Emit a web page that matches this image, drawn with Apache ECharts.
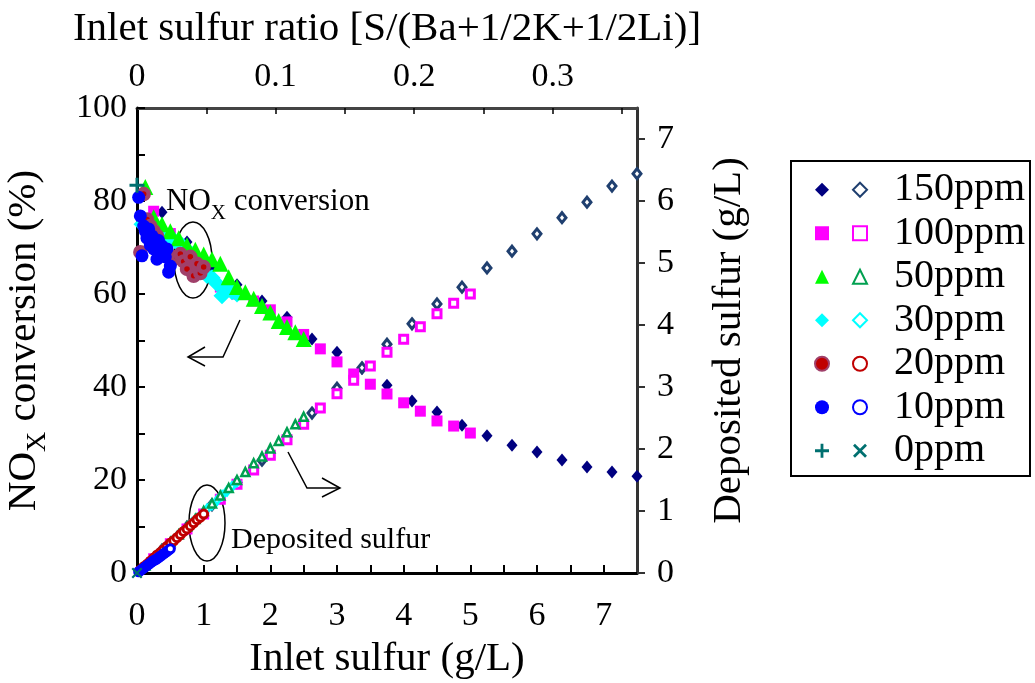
<!DOCTYPE html>
<html><head><meta charset="utf-8">
<script src="https://cdn.jsdelivr.net/npm/echarts@6/dist/echarts.min.js"></script>
<style>html,body{margin:0;padding:0;background:#fff}#c{width:1035px;height:683px}</style>
</head><body><div id="c"></div>
<script>
const FONT = 'Liberation Serif';
// Inlet sulfur (g/L), NOx conversion (%), deposited sulfur (g/L)
const inlet150 = [0.375,0.75,1.125,1.5,1.875,2.25,2.625,3.0,3.375,3.75,4.125,4.5,4.875,5.25,5.625,6.0,6.375,6.75,7.125,7.5];
const nox150 = [77.6,71.2,66,62,58.5,55,50.3,47.5,44,40.4,37,34.6,31.8,29.5,27.5,26,24.3,22.8,21.7,20.8];
const dep150 = [0.37,0.74,1.1,1.46,1.82,2.2,2.58,2.98,3.31,3.69,4.02,4.34,4.61,4.92,5.19,5.47,5.73,5.98,6.24,6.44];

const inlet100 = [0.25,0.5,0.75,1.0,1.25,1.5,1.75,2.0,2.25,2.5,2.75,3.0,3.25,3.5,3.75,4.0,4.25,4.5,4.75,5.0];
const nox100 = [77.8,73,67,64.5,61.5,60,58.5,56.6,54,51.3,48.2,45.4,42.8,40.6,38.5,36.6,34.8,32.7,31.6,30.1];
const dep100 = [0.23,0.47,0.71,0.95,1.19,1.43,1.66,1.9,2.15,2.4,2.66,2.89,3.11,3.34,3.56,3.77,3.97,4.18,4.35,4.5];

const inlet50 = [0.125,0.25,0.375,0.5,0.625,0.75,0.875,1.0,1.125,1.25,1.375,1.5,1.625,1.75,1.875,2.0,2.125,2.25,2.375,2.5];
const nox50 = [83,76.5,75,73.5,72,70.5,69.5,68.5,67.5,66.5,63.6,61.5,60.4,59,57.4,56,54.2,52.9,51.8,50.3];
const dep50 = [0.12,0.25,0.37,0.5,0.62,0.75,0.87,1.0,1.12,1.25,1.37,1.5,1.63,1.77,1.88,2.01,2.13,2.27,2.4,2.52];

const inlet30 = [0.075,0.15,0.225,0.3,0.375,0.45,0.525,0.6,0.675,0.75,0.825,0.9,0.975,1.05,1.125,1.2,1.275,1.35,1.425,1.5];
const nox30 = [75,74.5,74,73.5,72.5,72.5,72,71,70.5,69.5,68.5,67.5,66,64,63.5,62.2,59.6,61,60.5,60];
const dep30 = [0.07,0.15,0.22,0.29,0.37,0.44,0.51,0.59,0.66,0.73,0.81,0.88,0.95,1.03,1.1,1.17,1.25,1.32,1.39,1.47];

const inlet20 = [0.05,0.1,0.15,0.2,0.25,0.3,0.35,0.4,0.45,0.5,0.55,0.6,0.65,0.7,0.75,0.8,0.85,0.9,0.95,1.0];
const nox20 = [69,81.5,76,74.6,73.5,72.5,70.3,69.2,69,68,67.5,68,68.6,67,65.4,68,63.9,66.5,64.5,65.8];
const dep20 = [0.05,0.1,0.14,0.19,0.24,0.29,0.33,0.38,0.43,0.48,0.52,0.57,0.62,0.67,0.71,0.76,0.81,0.86,0.9,0.95];

const inlet10 = [0.025,0.05,0.075,0.1,0.125,0.15,0.175,0.2,0.225,0.25,0.275,0.3,0.325,0.35,0.375,0.4,0.425,0.45,0.475,0.5];
const nox10 = [80.8,76.8,68.2,74.6,73.5,72,74,70.5,72.5,69.7,71,67.5,71.5,69,70.3,69.5,68,69.7,64.7,66];
const dep10 = [0.02,0.04,0.06,0.08,0.1,0.12,0.14,0.16,0.18,0.2,0.21,0.23,0.25,0.27,0.29,0.31,0.33,0.35,0.37,0.39];

const inlet0 = [0];
const nox0 = [83.4];
const dep0 = [0];

const legendLabels = ['150ppm','100ppm','50ppm','30ppm','20ppm','10ppm','0ppm'];

const pts = (xs, ys) => xs.map((x, i) => [x, ys[i]]);
const PLUS = 'path://M4,0h2v4h4v2h-4v4h-2v-4h-4v-2h4z';
const CROSS = 'path://M1.4,0L5,3.6L8.6,0L10,1.4L6.4,5L10,8.6L8.6,10L5,6.4L1.4,10L0,8.6L3.6,5L0,1.4Z';

function filled(name, xs, ys, symbol, size, style, z) {
  return {type:'scatter', name: name + ' NOx', xAxisIndex:0, yAxisIndex:0, data: pts(xs, ys),
    symbol, symbolSize:size, itemStyle: Object.assign({opacity:1}, style), z: z || 2};
}
function open(name, xs, ys, symbol, size, color, bw, z) {
  return {type:'scatter', name: name + ' S', xAxisIndex:0, yAxisIndex:1, data: pts(xs, ys),
    symbol, symbolSize:size,
    itemStyle: symbol.indexOf('path') === 0 ? {color, opacity:1} : {color:'#fff', borderColor:color, borderWidth:bw, opacity:1}, z: z || 2};
}

const series = [
  filled('150ppm', inlet150, nox150, 'diamond', [11,13], {color:'#000080'}),
  open('150ppm', inlet150, dep150, 'diamond', [8,10], '#1F3F6F', 3),
  filled('100ppm', inlet100, nox100, 'rect', 11, {color:'#FF00FF'}),
  open('100ppm', inlet100, dep100, 'rect', 8, '#FF00FF', 3),
  filled('30ppm', inlet30, nox30, 'diamond', 17, {color:'#00FFFF'}),
  open('30ppm', inlet30, dep30, 'diamond', [6,8], '#00FFFF', 3),
  filled('50ppm', inlet50, nox50, 'triangle', 16, {color:'#00FF00'}),
  open('50ppm', inlet50, dep50, 'triangle', 8, '#00A050', 2.5),
  filled('20ppm', inlet20, nox20, 'circle', 10, {color:'#C00000', borderColor:'#A0406A', borderWidth:4.5}),
  open('20ppm', inlet20, dep20, 'circle', 8, '#C00000', 3),
  filled('10ppm', inlet10, nox10, 'circle', 13, {color:'#0000FF'}),
  open('10ppm', inlet10, dep10, 'circle', 8, '#0000FF', 3),
  filled('0ppm', inlet0, nox0, PLUS, 15, {color:'#007070'}),
  open('0ppm', inlet0, dep0, CROSS, 11, '#007070', 0)
];

const numLabel = {fontFamily:FONT, fontSize:34, color:'#000'};
const legendText = {fontFamily:FONT, fontSize:40, color:'#000', lineHeight:43.5};
const titleText = {fontFamily:FONT, fontSize:41, color:'#000'};

const option = {
  animation:false,
  backgroundColor:'#fff',
  grid:{left:137, right:398, top:108, bottom:110, containLabel:false, outerBoundsMode:'none'},
  xAxis:[
    {type:'value', position:'bottom', min:0, max:7.5, interval:0.5,
     name:'Inlet sulfur (g/L)', nameLocation:'middle', nameGap:66,
     nameTextStyle:titleText,
     axisLine:{show:true, onZero:false, lineStyle:{color:'#000', width:3}},
     axisTick:{show:true, inside:true, length:8, lineStyle:{color:'#000', width:2}},
     axisLabel:{...numLabel, margin:26, showMaxLabel:false,
       formatter:v => Math.abs(v - Math.round(v)) < 1e-6 ? String(Math.round(v)) : ''},
     splitLine:{show:false}},
    {type:'value', position:'top', min:0, max:0.3607, interval:0.05,
     name:'Inlet sulfur ratio [S/(Ba+1/2K+1/2Li)]', nameLocation:'middle', nameGap:58,
     nameTextStyle:titleText,
     axisLine:{show:true, onZero:false, lineStyle:{color:'#444', width:3}},
     axisTick:{show:true, inside:true, length:6, lineStyle:{color:'#000', width:1.5}},
     axisLabel:{...numLabel, margin:14, showMaxLabel:false,
       formatter:v => Math.abs(v*10 - Math.round(v*10)) < 1e-6 ? (Math.round(v*10) === 0 ? '0' : (Math.round(v*10)/10).toFixed(1)) : ''},
     splitLine:{show:false}}
  ],
  yAxis:[
    {type:'value', position:'left', min:0, max:100, interval:10,
     name:'{a|NO}{s|X}{a| conversion (%)}', nameLocation:'middle', nameGap:85,
     nameTextStyle:{...titleText,
       rich:{a:{fontFamily:FONT, fontSize:41, color:'#000', verticalAlign:'bottom', padding:[0,0,7,0]},
             s:{fontFamily:FONT, fontSize:28, color:'#000', verticalAlign:'bottom'}}},
     axisLine:{show:true, onZero:false, lineStyle:{color:'#000', width:3}},
     axisTick:{show:true, inside:true, length:8, lineStyle:{color:'#000', width:2}},
     axisLabel:{...numLabel, margin:10, formatter:v => v % 20 === 0 ? String(v) : ''},
     splitLine:{show:false}},
    {type:'value', position:'right', min:0, max:7.5, interval:1,
     name:'Deposited sulfur (g/L)', nameLocation:'middle', nameGap:72,
     nameTextStyle:titleText,
     axisLine:{show:true, onZero:false, lineStyle:{color:'#333', width:3}},
     axisTick:{show:true, inside:false, length:8, lineStyle:{color:'#333', width:2}},
     axisLabel:{...numLabel, margin:20, showMaxLabel:false,
       formatter:v => Math.abs(v - Math.round(v)) < 1e-6 ? String(Math.round(v)) : ''},
     splitLine:{show:false}}
  ],
  legend:[
    {orient:'vertical', left:809, top:163, itemGap:0, itemWidth:14, itemHeight:14,
     data: legendLabels.map(n => n + ' NOx'), selectedMode:false,
     formatter:() => ' ', textStyle:{...legendText, color:'rgba(0,0,0,0)'}},
    {orient:'vertical', left:847, top:163, itemGap:0, itemWidth:14, itemHeight:14,
     data: legendLabels.map(n => n + ' S'), selectedMode:false,
     formatter:n => n.split(' ')[0], textStyle:{...legendText, padding:[0,0,0,22]}}
  ],
  graphic:[
    {type:'rect', shape:{x:791, y:161, width:239, height:315}, style:{fill:'none', stroke:'#000', lineWidth:2}, silent:true},
    {type:'ellipse', shape:{cx:193, cy:260, rx:19, ry:38}, style:{fill:'none', stroke:'#000', lineWidth:1.5}, silent:true},
    {type:'polyline', shape:{points:[[240,320],[223,357],[188,357]]}, style:{fill:'none', stroke:'#000', lineWidth:1.5}, silent:true},
    {type:'polyline', shape:{points:[[205,347],[188,357],[205,366]]}, style:{fill:'none', stroke:'#000', lineWidth:1.5}, silent:true},
    {type:'ellipse', shape:{cx:207, cy:523, rx:18, ry:38}, style:{fill:'none', stroke:'#000', lineWidth:1.5}, silent:true},
    {type:'polyline', shape:{points:[[288,452],[307,488],[340,488]]}, style:{fill:'none', stroke:'#000', lineWidth:1.5}, silent:true},
    {type:'polyline', shape:{points:[[322,478],[340,488],[322,497]]}, style:{fill:'none', stroke:'#000', lineWidth:1.5}, silent:true},
    {type:'text', x:231, y:540, style:{text:'Deposited sulfur', fontFamily:FONT, fontSize:30, fill:'#000', verticalAlign:'middle'}, silent:true},
    {type:'text', x:166, y:205, style:{text:'{a|NO}{s|X}{a| conversion}', fontFamily:FONT, fontSize:31, fill:'#000', verticalAlign:'middle',
      rich:{a:{fontFamily:FONT, fontSize:31, fill:'#000', verticalAlign:'bottom', padding:[0,0,6,0]},
            s:{fontFamily:FONT, fontSize:21, fill:'#000', verticalAlign:'bottom'}}}, silent:true}
  ],
  series
};
const chart = echarts.init(document.getElementById('c'), null, {renderer:'canvas'});
chart.setOption(option);
</script></body></html>
